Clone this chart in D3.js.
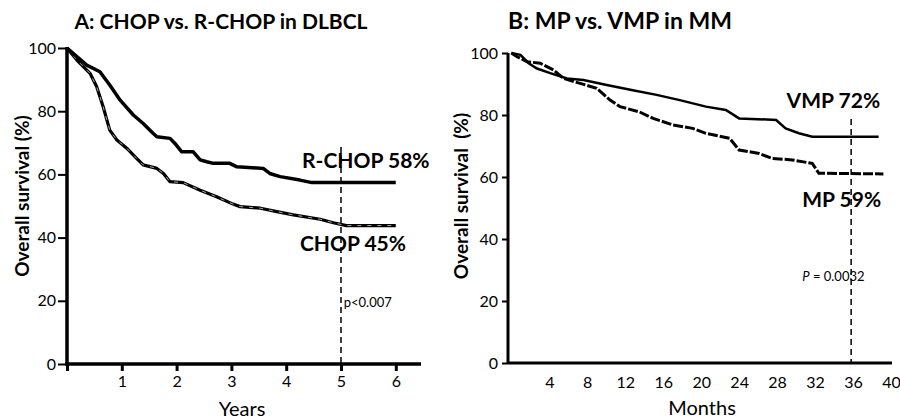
<!DOCTYPE html>
<html><head><meta charset="utf-8">
<script src="https://cdn.jsdelivr.net/npm/d3@7"></script>
<style>
body{margin:0;background:#fff;}
text{font-family:Lato,"Open Sans",sans-serif;fill:#000;}
</style></head>
<body><svg id="c" width="900" height="420"></svg>
<script>
// Panel A data (years, % survival)
const rchopT = [0,0.36,0.6,0.78,0.97,1.21,1.39,1.57,1.64,1.88,1.97,2.09,2.3,2.43,2.55,2.67,2.97,3.1,3.58,3.7,3.89,4.25,4.47,6.0];
const rchopV = [100,94.6,92.5,88.3,83.5,78.8,76.1,73,71.9,71.4,69.8,67.2,67.2,64.6,64,63.5,63.5,62.4,61.9,60.3,59.3,58.2,57.4,57.4];
const chopT = [0,0.18,0.42,0.54,0.66,0.78,0.91,1.09,1.27,1.39,1.64,1.76,1.88,2.12,2.43,2.73,3.03,3.16,3.53,3.83,4.13,4.62,4.86,5.1,6.0];
const chopV = [100,96.2,92,87.8,81.4,74,70.9,68.3,65.1,63,61.9,60.3,57.7,57.4,55,52.9,50.6,49.8,49.3,48.2,47.2,45.8,44.7,43.8,43.8];
const yearTicks = [1,2,3,4,5,6];
// Panel B data (months, % survival)
const vmpM = [0,0.96,1.83,2.7,4.1,5.86,7.6,10.05,12.8,15.3,17.75,20.5,22.6,24.0,27.9,28.9,30.3,31.7,38.7];
const vmpV = [100,99.4,96.7,95,93.5,91.8,91.3,89.7,88,86.5,84.8,82.7,81.6,78.9,78.4,75.7,74.1,73,73];
const mpM = [0,0.6,1.66,3.05,4.45,5.5,7.25,9,10.4,11.45,13.5,14.95,17.0,19.1,20.5,23,24,26.1,27.5,29.6,31.7,32.4,39.2];
const mpV = [100,98.8,97.2,96.7,94.5,91.8,90.2,88.6,84.8,82.7,81,78.9,76.8,75.7,74.1,72.5,68.7,67.6,66,65.5,64.4,61.2,61];
const monthTicks = [4,8,12,16,20,24,28,32,36,40];
const survTicks = [0,20,40,60,80,100];

const svg = d3.select("#c");

function zip(a,b){return a.map((d,i)=>[d,b[i]]);}

// ---------- Panel A ----------
const xA = d3.scaleLinear().domain([0,6.46]).range([67,421]);
const yA = d3.scaleLinear().domain([0,100]).range([364,48]);
const gA = svg.append("g");

const lineA = d3.line().x(d=>xA(d[0])).y(d=>yA(d[1])).curve(d3.curveLinear);

// dashed 5-year line
gA.append("line").attr("x1",xA(5)).attr("x2",xA(5)).attr("y1",yA(68.7)).attr("y2",yA(0))
  .attr("stroke","#000").attr("stroke-width",1.5).attr("stroke-dasharray","6,4");

gA.append("path").datum(zip(chopT,chopV)).attr("d",lineA).attr("fill","none")
  .attr("stroke","#000").attr("stroke-width",3.2).attr("stroke-linejoin","round");
gA.append("path").datum(zip(chopT,chopV)).attr("d",lineA).attr("fill","none")
  .attr("stroke","#aaa").attr("stroke-width",1).attr("stroke-dasharray","4,6");
gA.append("path").datum(zip(rchopT,rchopV)).attr("d",lineA).attr("fill","none")
  .attr("stroke","#000").attr("stroke-width",3.5).attr("stroke-linejoin","round");

// axes A
const axAy = gA.append("g").attr("transform",`translate(${xA(0)},0)`)
  .call(d3.axisLeft(yA).tickValues(survTicks).tickSize(9).tickPadding(2));
axAy.select(".domain").attr("stroke-width",3.5).attr("d",`M0,${yA(100)-1}V${yA(0)}`);
axAy.selectAll(".tick line").attr("stroke-width",2);
axAy.selectAll(".tick text").attr("font-size",16).style("font-family","Lato");

const axAx = gA.append("g").attr("transform",`translate(0,${yA(0)})`)
  .call(d3.axisBottom(xA).tickValues([0].concat(yearTicks)).tickSize(7).tickPadding(5).tickFormat(d=>d===0?"":d));
axAx.select(".domain").attr("stroke-width",3.5).attr("d",`M${xA(0)-2},0H${xA(6.46)}`);
axAx.selectAll(".tick line").attr("stroke-width",3);
axAx.selectAll(".tick text").attr("font-size",16).style("font-family","Lato");

gA.append("text").attr("x",221).attr("y",29).attr("text-anchor","middle")
  .attr("font-size",21).attr("font-weight","bold").text("A: CHOP vs. R-CHOP in DLBCL");
gA.append("text").attr("x",242).attr("y",416).attr("text-anchor","middle")
  .attr("font-size",20).text("Years");
gA.append("text").attr("transform","translate(29,196) rotate(-90)").attr("text-anchor","middle")
  .attr("font-size",19).attr("font-weight","bold").text("Overall survival (%)");
gA.append("text").attr("x",xA(4.29)).attr("y",yA(62)).attr("font-size",21).attr("font-weight","bold").text("R-CHOP 58%");
gA.append("text").attr("x",xA(4.25)).attr("y",yA(35.8)).attr("font-size",21).attr("font-weight","bold").text("CHOP 45%");
gA.append("text").attr("x",xA(5.05)).attr("y",yA(18)).attr("font-size",13).text("p<0.007");

// ---------- Panel B ----------
const xB = d3.scaleLinear().domain([-0.35,40]).range([508,891]);
const yB = d3.scaleLinear().domain([0,100]).range([363,53]);
const gB = svg.append("g");
const lineB = d3.line().x(d=>xB(d[0])).y(d=>yB(d[1])).curve(d3.curveLinear);

gB.append("line").attr("x1",xB(35.8)).attr("x2",xB(35.8)).attr("y1",yB(78.7)).attr("y2",yB(0))
  .attr("stroke","#000").attr("stroke-width",1.5).attr("stroke-dasharray","6,4");

gB.append("path").datum(zip(mpM,mpV)).attr("d",lineB).attr("fill","none")
  .attr("stroke","#000").attr("stroke-width",3).attr("stroke-dasharray","10,2");
gB.append("path").datum(zip(vmpM,vmpV)).attr("d",lineB).attr("fill","none")
  .attr("stroke","#000").attr("stroke-width",2.5);

const axBy = gB.append("g").attr("transform",`translate(508,0)`)
  .call(d3.axisLeft(yB).tickValues(survTicks).tickSize(6).tickPadding(4));
axBy.select(".domain").attr("stroke-width",3).attr("d",`M0,${yB(100)}V${yB(0)}`);
axBy.selectAll(".tick line").attr("stroke-width",2);
axBy.selectAll(".tick text").attr("font-size",16).style("font-family","Lato");

const axBx = gB.append("g").attr("transform",`translate(0,${yB(0)})`)
  .call(d3.axisBottom(xB).tickValues(monthTicks).tickSize(0).tickPadding(14));
axBx.select(".domain").attr("stroke-width",3).attr("d",`M508,0H892`);
axBx.selectAll(".tick text").attr("font-size",16).style("font-family","Lato");

gB.append("text").attr("x",620).attr("y",29).attr("text-anchor","middle")
  .attr("font-size",23).attr("font-weight","bold").text("B: MP vs. VMP in MM");
gB.append("text").attr("x",702).attr("y",415).attr("text-anchor","middle")
  .attr("font-size",20).text("Months");
gB.append("text").attr("transform","translate(468,196) rotate(-90)").attr("text-anchor","middle")
  .attr("font-size",19).attr("font-weight","bold").style("white-space","pre").text("Overall survival  (%)");
gB.append("text").attr("x",xB(29.0)).attr("y",yB(82.3)).attr("font-size",21).attr("font-weight","bold").text("VMP 72%");
gB.append("text").attr("x",xB(30.65)).attr("y",yB(50.3)).attr("font-size",21).attr("font-weight","bold").text("MP 59%");
const pt = gB.append("text").attr("x",xB(30.65)).attr("y",yB(26.5)).attr("font-size",13);
pt.append("tspan").attr("font-style","italic").text("P");
pt.append("tspan").text(" = 0.0032");
</script></body></html>
